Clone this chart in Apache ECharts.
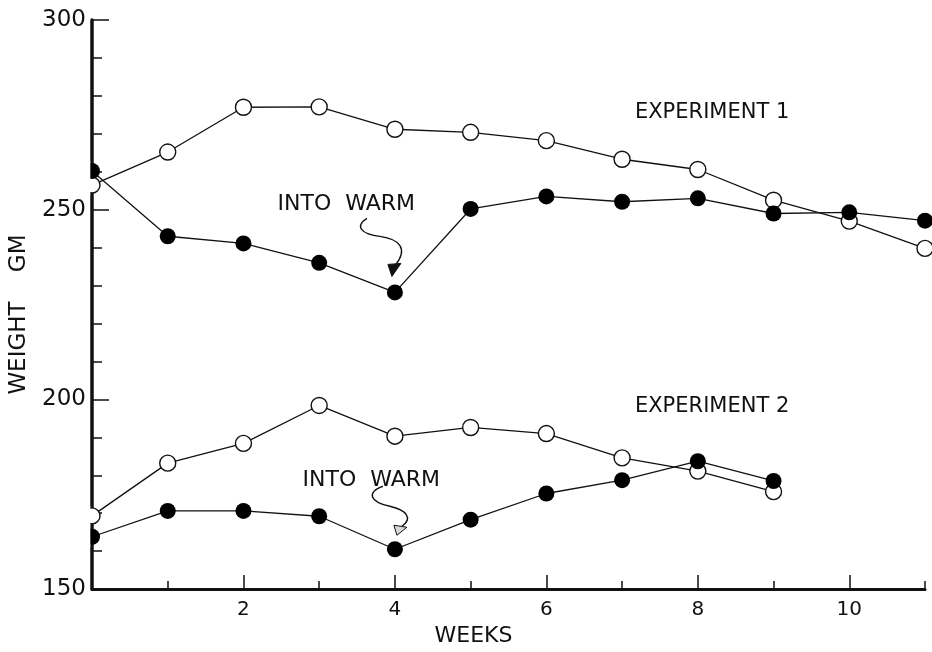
<!DOCTYPE html>
<html>
<head>
<meta charset="utf-8">
<script src="https://cdn.jsdelivr.net/npm/echarts@6/dist/echarts.min.js"></script>
<style>
  html, body { margin: 0; padding: 0; background: #ffffff; }
  #chart { width: 932px; height: 652px; }
</style>
</head>
<body>
<div id="chart"></div>
<script>
// Weekly body weight (gm), two experiments, open vs. filled groups
const weeks1 = [0, 1, 2, 3, 4, 5, 6, 7, 8, 9, 10, 11];
const exp1Open = [256.5, 265.2, 277.0, 277.1, 271.2, 270.4, 268.2, 263.3, 260.6, 252.5, 247.0, 239.8];
const exp1Filled = [260.2, 243.0, 241.1, 236.0, 228.2, 250.2, 253.5, 252.1, 253.0, 249.0, 249.3, 247.1];

const weeks2 = [0, 1, 2, 3, 4, 5, 6, 7, 8, 9];
const exp2Open = [169.3, 183.2, 188.4, 198.4, 190.3, 192.6, 191.0, 184.6, 181.1, 175.7];
const exp2Filled = [163.8, 170.6, 170.6, 169.2, 160.5, 168.3, 175.2, 178.7, 183.7, 178.5];

const xLabelWeeks = [2, 4, 6, 8, 10];
const xMinorWeeks = [1, 3, 5, 7, 9, 11];
const yMin = 150, yMax = 300, yStep = 50;

// Text annotations placed in data space: [week, gm]
const notes = [
  { text: 'EXPERIMENT 1', at: [7.17, 275.6], size: 21 },
  { text: 'EXPERIMENT 2', at: [7.17, 198.0], size: 21 },
  { text: 'INTO  WARM', at: [2.45, 251.3], size: 22 },
  { text: 'INTO  WARM', at: [2.78, 178.8], size: 22 }
];
// week at which each group was moved into the warm
const warmWeek = 4;

const FONT = 'DejaVu Sans';
const INK = '#111111';

function pairs(xs, ys) { return xs.map((x, i) => [x, ys[i]]); }

const chart = echarts.init(document.getElementById('chart'), null, { renderer: 'canvas' });

function lineSeries(name, xs, ys, filled) {
  return {
    name: name,
    type: 'line',
    xAxisIndex: 0,
    yAxisIndex: 0,
    data: pairs(xs, ys),
    symbol: 'circle',
    symbolSize: 16,
    showAllSymbol: true,
    clip: false,
    z: filled ? 4 : 3,
    lineStyle: { color: INK, width: 1.3 },
    itemStyle: filled
      ? { color: '#000000', borderColor: '#000000', borderWidth: 0 }
      : { color: '#ffffff', borderColor: INK, borderWidth: 1.4 },
    emphasis: { disabled: true },
    animation: false
  };
}

const option = {
  backgroundColor: '#ffffff',
  animation: false,
  grid: { left: 91, right: 7, top: 20, bottom: 55, containLabel: false },
  xAxis: [
    {
      type: 'value', min: 0, max: 11, position: 'bottom',
      name: 'WEEKS', nameLocation: 'middle', nameGap: 32,
      nameTextStyle: { fontFamily: FONT, fontSize: 22, color: INK, padding: [0, 70, 0, 0] },
      axisLine: { show: true, onZero: false, lineStyle: { color: INK, width: 3 } },
      axisTick: { show: true, inside: true, length: 14, customValues: xLabelWeeks, lineStyle: { color: INK, width: 1.5 } },
      axisLabel: { show: true, customValues: xLabelWeeks, margin: 11, fontFamily: FONT, fontSize: 20, color: INK },
      splitLine: { show: false }
    },
    {
      type: 'value', min: 0, max: 11, position: 'bottom',
      axisLine: { show: false, onZero: false },
      axisTick: { show: true, inside: true, length: 8, customValues: xMinorWeeks, lineStyle: { color: INK, width: 1.5 } },
      axisLabel: { show: false },
      splitLine: { show: false }
    }
  ],
  yAxis: {
    type: 'value', min: yMin, max: yMax, interval: yStep,
    name: 'WEIGHT    GM', nameLocation: 'middle', nameGap: 61, nameRotate: 90,
    nameTextStyle: { fontFamily: FONT, fontSize: 23, color: INK, padding: [0, 20, 0, 0] },
    axisLine: { show: true, onZero: false, lineStyle: { color: INK, width: 3.5 } },
    axisTick: { show: true, inside: true, length: 17, lineStyle: { color: INK, width: 1.5 } },
    minorTick: { show: true, splitNumber: 5, length: 10, lineStyle: { color: INK, width: 1.5 } },
    axisLabel: { margin: 6, fontFamily: FONT, fontSize: 23, color: INK },
    splitLine: { show: false },
    minorSplitLine: { show: false }
  },
  series: [
    lineSeries('Exp 1 open', weeks1, exp1Open, false),
    lineSeries('Exp 2 open', weeks2, exp2Open, false),
    lineSeries('Exp 1 filled', weeks1, exp1Filled, true),
    lineSeries('Exp 2 filled', weeks2, exp2Filled, true)
  ]
};

chart.setOption(option);

// Annotations: labels, curly arrows and a mask for the part of the week-0 markers left of the axis
function px(pt) { return chart.convertToPixel({ xAxisIndex: 0, yAxisIndex: 0 }, pt); }

const graphics = [];

notes.forEach(n => {
  const p = px(n.at);
  graphics.push({
    type: 'text', z: 20, silent: true,
    x: p[0], y: p[1],
    style: { text: n.text, fontFamily: FONT, fontSize: n.size, fill: INK, align: 'left', verticalAlign: 'middle' }
  });
});

// curly arrow: two cubic segments (offsets from the tip), then a triangular head
function curlyArrow(tip, segs, head, hollow) {
  const [tx, ty] = tip;
  const o = p => [tx + p[0], ty + p[1]];
  segs.forEach(s => {
    const a = o(s[0]), c1 = o(s[1]), c2 = o(s[2]), b = o(s[3]);
    graphics.push({
      type: 'bezierCurve', z: 20, silent: true,
      shape: { x1: a[0], y1: a[1], cpx1: c1[0], cpy1: c1[1], cpx2: c2[0], cpy2: c2[1], x2: b[0], y2: b[1] },
      style: { fill: null, stroke: INK, lineWidth: 1.4 }
    });
  });
  graphics.push({
    type: 'polygon', z: 21, silent: true,
    shape: { points: head.map(o) },
    style: hollow ? { fill: '#d8d8d8', stroke: INK, lineWidth: 1 } : { fill: INK, stroke: INK, lineWidth: 1 }
  });
}

const warm1 = px([warmWeek, exp1Filled[weeks1.indexOf(warmWeek)]]);
const warm2 = px([warmWeek, exp2Filled[weeks2.indexOf(warmWeek)]]);

curlyArrow(
  [warm1[0] - 3, warm1[1] - 16],
  [
    [[-25, -58], [-38, -50], [-30, -42], [-12, -40]],
    [[-12, -40], [8, -37], [16, -28], [4, -12]]
  ],
  [[-4, -12], [9, -13], [0, 0]],
  false
);
curlyArrow(
  [warm2[0] + 2, warm2[1] - 14],
  [
    [[-14, -49], [-31, -43], [-27, -33], [-7, -29]],
    [[-7, -29], [10, -25], [16, -17], [5, -9]]
  ],
  [[-3, -10], [10, -8], [0, 0]],
  true
);

// hide the half of each week-0 marker that falls left of the vertical axis
const axisX = px([0, yMin])[0];
[[exp1Open[0], exp1Filled[0]], [exp2Open[0], exp2Filled[0]]].forEach(pair => {
  const ys = pair.map(v => px([0, v])[1]);
  const top = Math.min.apply(null, ys) - 10;
  const bottom = Math.max.apply(null, ys) + 10;
  graphics.push({
    type: 'rect', z: 15, silent: true,
    shape: { x: axisX - 14, y: top, width: 12.3, height: bottom - top },
    style: { fill: '#ffffff' }
  });
});

chart.setOption({ graphic: graphics });
</script>
</body>
</html>
